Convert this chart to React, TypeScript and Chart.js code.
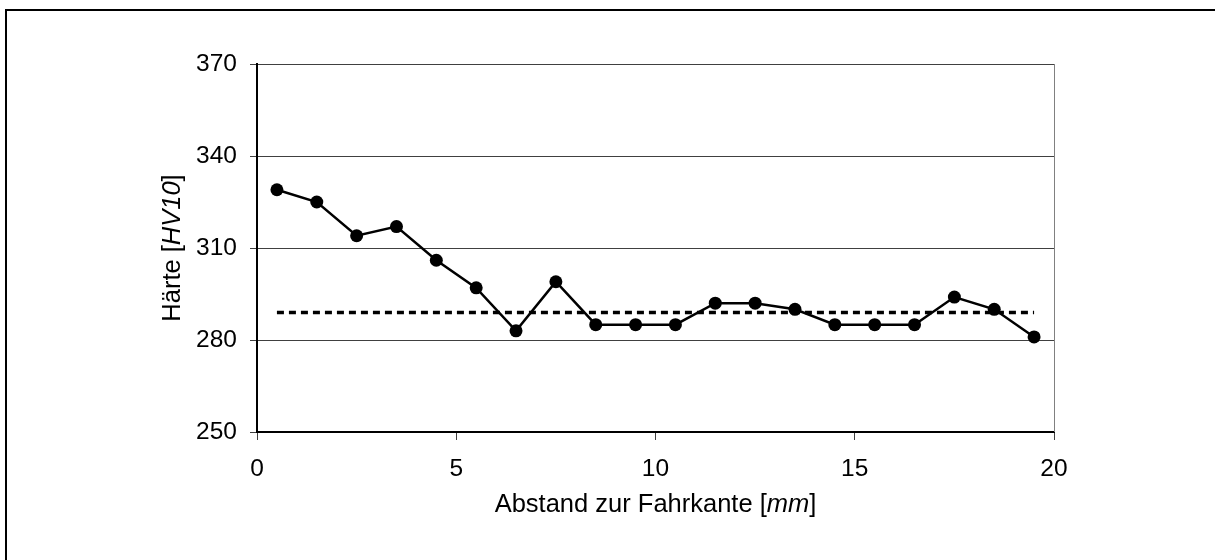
import React, { useEffect, useRef } from "react";
import { Chart, registerables } from "chart.js";

Chart.register(...registerables);

// Data
const distances = [0.5, 1.5, 2.5, 3.5, 4.5, 5.5, 6.5, 7.5, 8.5, 9.5, 10.5, 11.5, 12.5, 13.5, 14.5, 15.5, 16.5, 17.5, 18.5, 19.5];
const hardness = [329, 325, 314, 317, 306, 297, 283, 299, 285, 285, 285, 292, 292, 290, 285, 285, 285, 294, 290, 281];
const referenceHardness = 289;
const xTickValues = [0, 5, 10, 15, 20];
const yTickValues = [250, 280, 310, 340, 370];
const xTitleParts = [
  { text: "Abstand zur Fahrkante [", italic: false },
  { text: "mm", italic: true },
  { text: "]", italic: false },
];
const yTitleParts = [
  { text: "Härte [", italic: false },
  { text: "HV10", italic: true },
  { text: "]", italic: false },
];

const FONT = "'Liberation Sans', Arial, Helvetica, sans-serif";

function drawMixed(ctx: CanvasRenderingContext2D, parts: { text: string; italic: boolean }[], size: number) {
  const fonts = parts.map((p) => `${p.italic ? "italic " : ""}${size}px ${FONT}`);
  let total = 0;
  const widths = parts.map((p, i) => {
    ctx.font = fonts[i];
    const w = ctx.measureText(p.text).width;
    total += w;
    return w;
  });
  let x = -total / 2;
  ctx.textAlign = "left";
  ctx.textBaseline = "alphabetic";
  ctx.fillStyle = "#000";
  parts.forEach((p, i) => {
    ctx.font = fonts[i];
    ctx.fillText(p.text, x, 0);
    x += widths[i];
  });
}

const decorPlugin = {
  id: "decor",
  beforeDraw(chart: any) {
    const ctx = chart.ctx as CanvasRenderingContext2D;
    ctx.save();
    ctx.fillStyle = "#fff";
    ctx.fillRect(0, 0, chart.width, chart.height);
    ctx.strokeStyle = "#000";
    ctx.lineWidth = 2;
    ctx.strokeRect(6, 10, chart.width + 50, chart.height + 50);
    ctx.restore();
  },
  afterDraw(chart: any) {
    const ctx = chart.ctx as CanvasRenderingContext2D;
    const a = chart.chartArea;
    ctx.save();
    ctx.strokeStyle = "#808080";
    ctx.lineWidth = 1;
    ctx.beginPath();
    ctx.moveTo(Math.round(a.right) + 0.5, a.top);
    ctx.lineTo(Math.round(a.right) + 0.5, a.bottom);
    ctx.stroke();

    ctx.save();
    ctx.translate((a.left + a.right) / 2, 512);
    drawMixed(ctx, xTitleParts, 25.5);
    ctx.restore();

    ctx.save();
    ctx.translate(180, (a.top + a.bottom) / 2);
    ctx.rotate(-Math.PI / 2);
    drawMixed(ctx, yTitleParts, 25.5);
    ctx.restore();
    ctx.restore();
  },
};

export default function App() {
  const ref = useRef<HTMLCanvasElement | null>(null);
  useEffect(() => {
    if (!ref.current) return;
    const chart = new Chart(ref.current, {
      type: "line",
      data: {
        datasets: [
          {
            label: "Härte",
            data: distances.map((x, i) => ({ x, y: hardness[i] })),
            borderColor: "#000",
            backgroundColor: "#000",
            borderWidth: 2.5,
            pointRadius: 6.5,
            pointBackgroundColor: "#000",
            pointBorderWidth: 0,
            tension: 0,
            order: 1,
          },
          {
            label: "Mittelwert",
            data: distances.map((x) => ({ x, y: referenceHardness })),
            borderColor: "#000",
            borderWidth: 3.5,
            borderDash: [7, 5],
            pointRadius: 0,
            tension: 0,
            order: 2,
          },
        ],
      },
      options: {
        responsive: false,
        animation: false,
        layout: { padding: { left: 157, top: 64, right: 161, bottom: 68 } },
        plugins: { legend: { display: false }, tooltip: { enabled: false } },
        scales: {
          x: {
            type: "linear",
            min: 0,
            max: 20,
            afterFit: (s: any) => { s.height = 60; },
            afterBuildTicks: (s: any) => { s.ticks = xTickValues.map((v) => ({ value: v })); },
            grid: { drawOnChartArea: false, drawTicks: true, tickLength: 8, tickColor: "#404040", tickWidth: 1 },
            border: { color: "#000", width: 2 },
            ticks: { color: "#000", font: { family: FONT, size: 24.5 }, padding: 15, maxRotation: 0 },
          },
          y: {
            type: "linear",
            min: 250,
            max: 370,
            afterFit: (s: any) => { s.width = 100; },
            afterBuildTicks: (s: any) => { s.ticks = yTickValues.map((v) => ({ value: v })); },
            grid: { color: "#404040", lineWidth: 1, tickLength: 7, tickColor: "#404040", tickWidth: 1 },
            border: { color: "#000", width: 2 },
            ticks: { color: "#000", font: { family: FONT, size: 24.5 }, padding: 13 },
          },
        },
      },
      plugins: [decorPlugin],
    } as any);
    return () => chart.destroy();
  }, []);
  return (
    <div style={{ position: "absolute", left: 0, top: 0, width: 1215, height: 560 }}>
      <canvas ref={ref} width={1215} height={560} style={{ display: "block" }} />
    </div>
  );
}
